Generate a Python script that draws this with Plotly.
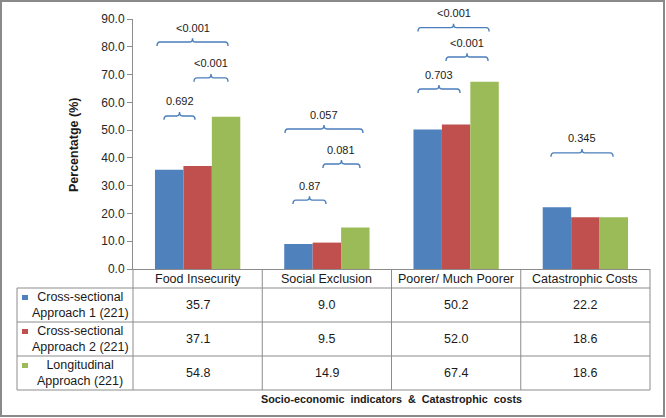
import plotly.graph_objects as go

categories = ['Food Insecurity', 'Social Exclusion', 'Poorer/ Much Poorer', 'Catastrophic Costs']
series_names = ['Cross-sectional<br>Approach 1 (221)', 'Cross-sectional<br>Approach 2 (221)', 'Longitudinal<br>Approach (221)']
approach1 = [35.7, 9.0, 50.2, 22.2]
approach2 = [37.1, 9.5, 52.0, 18.6]
longitudinal = [54.8, 14.9, 67.4, 18.6]
y_ticks = [0, 10, 20, 30, 40, 50, 60, 70, 80, 90]

# p-value comparisons: category index, label, bracket level (%)
p_cat = [0, 0, 0, 1, 1, 1, 2, 2, 2, 3]
p_labels = ['0.692', '<0.001', '<0.001', '0.87', '0.081', '0.057', '0.703', '<0.001', '<0.001', '0.345']
p_levels = [55.1, 68.8, 81.7, 24.8, 37.8, 50.4, 64.8, 76.3, 86.9, 41.8]
# bracket span relative to the category centre (style only)
p_spans = [(-0.26, -0.02), (-0.028, 0.235), (-0.314, 0.235),
           (-0.262, -0.007), (-0.03, 0.256), (-0.324, 0.279),
           (-0.295, 0.03), (-0.078, 0.247), (-0.295, 0.255),
           (-0.266, 0.214)]

colors = ['#4F81BD', '#C0504D', '#9BBB59']
series = [approach1, approach2, longitudinal]
FONT = 'Liberation Sans, Arial, sans-serif'
GRID = '#8c8c8c'
TXT = '#1a1a1a'

W, H = 666, 418
L, R, T, B = 133, 650, 19, 269
Y_MAX = 90


def px(x):
    return (x - L) / (R - L)


def py(y):
    return (B - y) / (B - T)


def label(x, y, text, size=12.5, **kw):
    return dict(x=x, y=y, xref='paper', yref='paper', text=text, showarrow=False,
                xanchor='center', yanchor='middle', font=dict(size=size, color=TXT, family=FONT), **kw)


xs = list(range(len(categories)))
fig = go.Figure()
for name, vals, col in zip(series_names, series, colors):
    fig.add_trace(go.Bar(x=xs, y=vals, name=name.replace('<br>', ' '), marker=dict(color=col, line=dict(width=0)),
                         hovertext=categories, showlegend=False))

shapes = []
annotations = []

# brackets with p-values
d = 1.4
r = 0.022
n = len(categories)
for c, lab, lev, (o0, o1) in zip(p_cat, p_labels, p_levels, p_spans):
    x0, x1 = c + o0, c + o1
    xm = (x0 + x1) / 2
    path = (f'M {x0},{lev - d} Q {x0},{lev} {x0 + r},{lev} L {xm - r},{lev} Q {xm},{lev} {xm},{lev + d} '
            f'Q {xm},{lev} {xm + r},{lev} L {x1 - r},{lev} Q {x1},{lev} {x1},{lev - d}')
    shapes.append(dict(type='path', path=path, xref='x', yref='y', line=dict(color='#4a7ebb', width=1.4)))
    annotations.append(label((xm + 0.5) / n, (lev + 5.2) / Y_MAX, lab, size=11))

# data table below the plot
col_w = (R - L) / n
row_tops = [288, 322, 356, 390]
tab_left = 17


def hline(y, x0, x1):
    shapes.append(dict(type='line', xref='paper', yref='paper', x0=px(x0), x1=px(x1), y0=py(y), y1=py(y),
                       line=dict(color=GRID, width=1)))


def vline(x, y0, y1):
    shapes.append(dict(type='line', xref='paper', yref='paper', x0=px(x), x1=px(x), y0=py(y0), y1=py(y1),
                       line=dict(color=GRID, width=1)))


for y in row_tops:
    hline(y, tab_left, R)
vline(tab_left, row_tops[0], row_tops[-1])
for i in range(n + 1):
    vline(L + i * col_w, B, row_tops[-1])

for i, cat in enumerate(categories):
    annotations.append(label(px(L + (i + 0.5) * col_w), py((B + row_tops[0]) / 2 + 0.5), cat))

for k, (name, vals, col) in enumerate(zip(series_names, series, colors)):
    top, bot = row_tops[k], row_tops[k + 1]
    yc = (top + bot) / 2
    shapes.append(dict(type='rect', xref='paper', yref='paper', x0=px(22), x1=px(28), y0=py(top + 7), y1=py(top + 12),
                       fillcolor=col, line=dict(width=0)))
    annotations.append(label(px(80), py(yc), name, align='center'))
    for i, v in enumerate(vals):
        annotations.append(label(px(L + (i + 0.5) * col_w), py(yc), f'{v:.1f}'))

# axis titles
annotations.append(label(px((L + R) / 2), py(399), '<b>Socio-economic  indicators  &  Catastrophic  costs</b>',
                         size=10.8))
annotations.append(label(px(74), py(145), '<b>Percentatge (%)</b>', size=12.5, textangle=-90))

# outer frame
shapes.append(dict(type='rect', xref='paper', yref='paper', x0=px(1), x1=px(W - 2), y0=py(1), y1=py(H - 2),
                   line=dict(color='#8a8a8a', width=2)))

fig.update_layout(
    width=W, height=H,
    margin=dict(l=L, r=W - R, t=T, b=H - B),
    paper_bgcolor='white', plot_bgcolor='white',
    barmode='group', bargap=0.34, bargroupgap=0,
    font=dict(family=FONT, size=12, color='#262626'),
    xaxis=dict(type='linear', range=[-0.5, n - 0.5], showticklabels=False, ticks='', showgrid=False,
               zeroline=False, showline=True, linecolor=GRID, linewidth=1, fixedrange=True),
    yaxis=dict(range=[0, Y_MAX], tickvals=y_ticks, tickformat='.1f', ticks='outside', ticklen=5, tickcolor=GRID,
               showgrid=False, zeroline=False, showline=True, linecolor=GRID, linewidth=1,
               tickfont=dict(size=12, color='#262626', family=FONT)),
    shapes=shapes, annotations=annotations,
)

# the page body has a default 8px margin; drop it so the figure fills the window
fig.write_html('out.html', config={'displayModeBar': False}, post_script="document.body.style.margin='0';")
